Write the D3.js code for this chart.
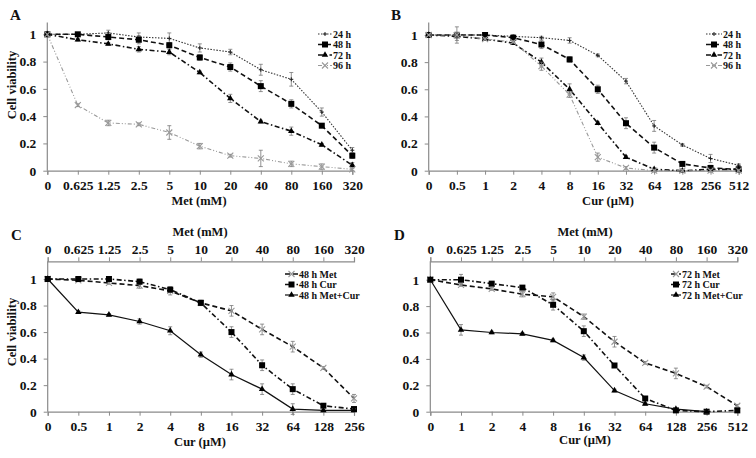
<!DOCTYPE html>
<html><head><meta charset="utf-8">
<script src="https://cdn.jsdelivr.net/npm/d3@7"></script>
<style>
body{margin:0;background:#fff;}
text{font-family:"Liberation Serif","Times New Roman",serif;font-weight:bold;fill:#111;}
</style></head><body>
<svg id="c" width="756" height="458"></svg>
<script>
// ---------- DATA ----------
const metDoses = ["0","0.625","1.25","2.5","5","10","20","40","80","160","320"];
const curDosesB = ["0","0.5","1","2","4","8","16","32","64","128","256","512"];
const curDosesC = ["0","0.5","1","2","4","8","16","32","64","128","256"];
const curDosesD = ["0","1","2","4","8","16","32","64","128","256","512"];
const yTicks = [0,0.2,0.4,0.6,0.8,1];

// Panel A: Met
const a24 = [1.0,1.0,1.01,0.98,0.97,0.90,0.87,0.74,0.67,0.43,0.15];
const a24e = [0,0.01,0.02,0.03,0.04,0.03,0.02,0.04,0.05,0.03,0.02];
const a48 = [1.0,1.0,0.98,0.96,0.92,0.83,0.76,0.62,0.49,0.33,0.11];
const a48e = [0,0.01,0.02,0.03,0.02,0.02,0.03,0.04,0.03,0.01,0.02];
const a72 = [1.0,0.96,0.93,0.89,0.87,0.72,0.53,0.36,0.29,0.19,0.04];
const a72e = [0,0.01,0.01,0.02,0.02,0.01,0.03,0.01,0.03,0.01,0.02];
const a96 = [1.0,0.48,0.35,0.34,0.28,0.18,0.11,0.09,0.05,0.03,0.01];
const a96e = [0,0.01,0.02,0.01,0.05,0.02,0.01,0.06,0.02,0.02,0.01];

// Panel B: Cur
const b24 = [1.0,1.0,1.0,0.99,0.98,0.96,0.85,0.66,0.33,0.19,0.09,0.04];
const b24e = [0,0.01,0.01,0.01,0.01,0.02,0.01,0.02,0.04,0.01,0.03,0.01];
const b48 = [1.0,1.0,1.0,0.98,0.93,0.82,0.60,0.35,0.17,0.05,0.02,0.01];
const b48e = [0,0.06,0.01,0.02,0.03,0.02,0.03,0.04,0.04,0.01,0.02,0.02];
const b72 = [1.0,0.99,0.97,0.94,0.80,0.60,0.35,0.10,0.01,0.0,0.01,0.01];
const b72e = [0,0.03,0.01,0.01,0.03,0.04,0.01,0.01,0.01,0.01,0.01,0.01];
const b96 = [1.0,1.0,0.97,0.95,0.77,0.56,0.10,0.02,0.0,0.0,0.0,0.0];
const b96e = [0,0.02,0.01,0.01,0.03,0.02,0.03,0.01,0.01,0.01,0.01,0.01];

// Panel C: 48 h combinations
const cMet = [1.0,0.99,0.97,0.95,0.91,0.82,0.76,0.62,0.49,0.33,0.10];
const cMete = [0,0.01,0.01,0.02,0.03,0.02,0.04,0.04,0.04,0.01,0.03];
const cCur = [1.0,1.0,1.0,0.98,0.92,0.82,0.60,0.35,0.17,0.045,0.02];
const cCure = [0,0.01,0.01,0.02,0.02,0.02,0.04,0.04,0.04,0.01,0.01];
const cMC = [1.0,0.75,0.73,0.68,0.61,0.43,0.28,0.17,0.02,0.01,0.01];
const cMCe = [0,0.01,0.01,0.02,0.03,0.02,0.04,0.04,0.04,0.01,0.01];

// Panel D: 72 h combinations
const dMet = [1.0,0.96,0.93,0.89,0.87,0.72,0.53,0.37,0.29,0.19,0.045];
const dMete = [0,0.01,0.01,0.02,0.03,0.02,0.04,0.01,0.04,0.01,0.01];
const dCur = [1.0,1.0,0.97,0.94,0.81,0.61,0.35,0.10,0.01,0.0,0.01];
const dCure = [0,0.04,0.01,0.01,0.04,0.04,0.01,0.01,0.01,0.01,0.01];
const dMC = [1.0,0.62,0.60,0.59,0.54,0.41,0.16,0.06,0.02,0.0];
const dMCe = [0,0.04,0.01,0.01,0.01,0.02,0.01,0.01,0.01,0.01];

// ---------- DRAW ----------
const svg = d3.select("#c");
const AX = "#8a8a8a";
const TICKFS = 13.5, TITLEFS = 12.5, LEGFS = 10;

const styles = {
  dot:   {dash:"1.5,1.5", w:1.1, color:"#333"},
  dash:  {dash:"5,3", w:1.6, color:"#111"},
  dashdot:{dash:"5,2.5,1.5,2.5", w:1.6, color:"#111"},
  dashdotdot:{dash:"4,2,1,2,1,2", w:1.1, color:"#999"},
  solid: {dash:null, w:1.2, color:"#111"}
};

function marker(g, type, x, y, color){
  if(type==="square"){
    g.append("rect").attr("x",x-3).attr("y",y-3).attr("width",6).attr("height",6).attr("fill","#000");
  } else if(type==="tri"){
    g.append("path").attr("d",d3.symbol().type(d3.symbolTriangle).size(18)()).attr("transform",`translate(${x},${y})`).attr("fill","#000");
  } else if(type==="plus"){
    g.append("path").attr("d",`M${x-2},${y}H${x+2}M${x},${y-2}V${y+2}`).attr("stroke","#222").attr("stroke-width",1);
  } else if(type==="x"){
    g.append("path").attr("d",`M${x-3},${y-3}L${x+3},${y+3}M${x-3},${y+3}L${x+3},${y-3}`).attr("stroke",color||"#999").attr("stroke-width",1.1);
  }
}

function styleTicks(sel){
  sel.selectAll("line").attr("stroke",AX);
  sel.selectAll("text").attr("font-size",TICKFS).attr("font-family","Liberation Serif").attr("font-weight","bold").attr("fill","#111");
}

function panel(cfg){
  const g = svg.append("g");
  const x = d3.scalePoint().domain(cfg.cats).range([cfg.x0,cfg.x1]);
  const y = d3.scaleLinear().domain([0,1]).range([cfg.y0,cfg.y1]);

  const ya = g.append("g").attr("transform",`translate(${cfg.x0},0)`)
    .call(d3.axisLeft(y).tickValues(yTicks).tickSize(4).tickPadding(7).tickFormat(d=> d===0?"0":(d===1?"1":d3.format(".1f")(d))));
  ya.select(".domain").remove();
  styleTicks(ya);
  g.append("line").attr("x1",cfg.x0).attr("x2",cfg.x0).attr("y1",cfg.axisTop).attr("y2",cfg.y0).attr("stroke",AX).attr("stroke-width",1.2);

  const xa = g.append("g").attr("transform",`translate(0,${cfg.y0})`)
    .call(d3.axisBottom(x).tickSize(4).tickPadding(6));
  xa.select(".domain").attr("stroke",AX).attr("stroke-width",1.2);
  styleTicks(xa);
  g.append("text").attr("x",cfg.xTitleX).attr("y",cfg.xTitleY).attr("text-anchor","middle").attr("font-size",TITLEFS).text(cfg.xTitle);

  if(cfg.topCats){
    const xt = d3.scalePoint().domain(cfg.topCats).range([cfg.x0,cfg.x1]);
    const ta = g.append("g").attr("transform",`translate(0,${cfg.axisTop})`)
      .call(d3.axisTop(xt).tickSize(4).tickPadding(3));
    ta.select(".domain").attr("stroke",AX).attr("stroke-width",1.2);
    styleTicks(ta);
    g.append("text").attr("x",cfg.topTitleX).attr("y",cfg.topTitleY).attr("text-anchor","middle").attr("font-size",TITLEFS).text(cfg.topTitle);
  }

  if(cfg.yTitle){
    g.append("text").attr("transform",`translate(${cfg.yTitleX},${cfg.yTitleY}) rotate(-90)`).attr("text-anchor","middle").attr("font-size",TITLEFS).text(cfg.yTitle);
  }
  g.append("text").attr("x",cfg.letterX).attr("y",cfg.letterY).attr("font-size",15).text(cfg.letter);

  cfg.series.forEach(s=>{
    const st = styles[s.style];
    const pts = s.vals.map((v,i)=>({px:x(cfg.cats[i]), py:y(v), v:v, e:s.err[i]}));
    pts.forEach(p=>{
      if(p.e>0){
        const yt = y(p.v+p.e), yb = y(p.v-p.e);
        g.append("path").attr("d",`M${p.px},${yt}V${yb}M${p.px-2},${yt}H${p.px+2}M${p.px-2},${yb}H${p.px+2}`)
          .attr("stroke","#777").attr("stroke-width",0.8).attr("fill","none");
      }
    });
    g.append("path").datum(pts).attr("d",d3.line().x(p=>p.px).y(p=>p.py))
      .attr("fill","none").attr("stroke",st.color).attr("stroke-width",st.w)
      .attr("stroke-dasharray",st.dash);
    pts.forEach(p=>marker(g,s.marker,p.px,p.py,s.mcolor));
  });

  cfg.series.forEach((s,i)=>{
    const st = styles[s.style];
    const ly = cfg.legY + i*cfg.legDy;
    g.append("line").attr("x1",cfg.legX0).attr("x2",cfg.legX1).attr("y1",ly).attr("y2",ly)
      .attr("stroke",st.color).attr("stroke-width",st.w).attr("stroke-dasharray",st.dash);
    marker(g,s.marker,(cfg.legX0+cfg.legX1)/2,ly,s.mcolor);
    g.append("text").attr("x",cfg.legTX).attr("y",ly+3.5).attr("font-size",LEGFS).text(s.name);
  });
}

panel({letter:"A",letterX:10,letterY:20,cats:metDoses,x0:47.3,x1:352.3,y0:170.7,y1:34.3,axisTop:22.5,
  xTitle:"Met (mM)",xTitleX:199,xTitleY:205,yTitle:"Cell viability",yTitleX:16,yTitleY:85,
  legX0:318,legX1:332,legTX:333,legY:34,legDy:10.5,
  series:[
   {name:"24 h",vals:a24,err:a24e,style:"dot",marker:"plus"},
   {name:"48 h",vals:a48,err:a48e,style:"dash",marker:"square"},
   {name:"72 h",vals:a72,err:a72e,style:"dashdot",marker:"tri"},
   {name:"96 h",vals:a96,err:a96e,style:"dashdotdot",marker:"x",mcolor:"#999"}]});

panel({letter:"B",letterX:391,letterY:20,cats:curDosesB,x0:428.7,x1:738.7,y0:170.7,y1:35,axisTop:22.5,
  xTitle:"Cur (\u00b5M)",xTitleX:608,xTitleY:205,
  legX0:706,legX1:722,legTX:723,legY:34,legDy:10.5,
  series:[
   {name:"24 h",vals:b24,err:b24e,style:"dot",marker:"plus"},
   {name:"48 h",vals:b48,err:b48e,style:"dash",marker:"square"},
   {name:"72 h",vals:b72,err:b72e,style:"dashdot",marker:"tri"},
   {name:"96 h",vals:b96,err:b96e,style:"dashdotdot",marker:"x",mcolor:"#999"}]});

panel({letter:"C",letterX:11,letterY:240,cats:curDosesC,topCats:metDoses,x0:47.7,x1:354,y0:411.7,y1:279,axisTop:261.3,
  xTitle:"Cur (\u00b5M)",xTitleX:200,xTitleY:446,topTitle:"Met (mM)",topTitleX:200,topTitleY:236,
  yTitle:"Cell viability",yTitleX:16,yTitleY:332,
  legX0:285,legX1:298,legTX:299,legY:274,legDy:10.5,
  series:[
   {name:"48 h Met",vals:cMet,err:cMete,style:"dash",marker:"x",mcolor:"#999"},
   {name:"48 h Cur",vals:cCur,err:cCure,style:"dashdot",marker:"square"},
   {name:"48 h Met+Cur",vals:cMC,err:cMCe,style:"solid",marker:"tri"}]});

panel({letter:"D",letterX:394,letterY:240,cats:curDosesD,topCats:metDoses,x0:430.3,x1:737.3,y0:411.7,y1:279.7,axisTop:261.3,
  xTitle:"Cur (\u00b5M)",xTitleX:585,xTitleY:444,topTitle:"Met (mM)",topTitleX:585,topTitleY:236,
  legX0:671,legX1:681,legTX:682,legY:274,legDy:10.5,
  series:[
   {name:"72 h Met",vals:dMet,err:dMete,style:"dash",marker:"x",mcolor:"#999"},
   {name:"72 h Cur",vals:dCur,err:dCure,style:"dashdot",marker:"square"},
   {name:"72 h Met+Cur",vals:dMC,err:dMCe,style:"solid",marker:"tri"}]});
</script>
</body></html>
